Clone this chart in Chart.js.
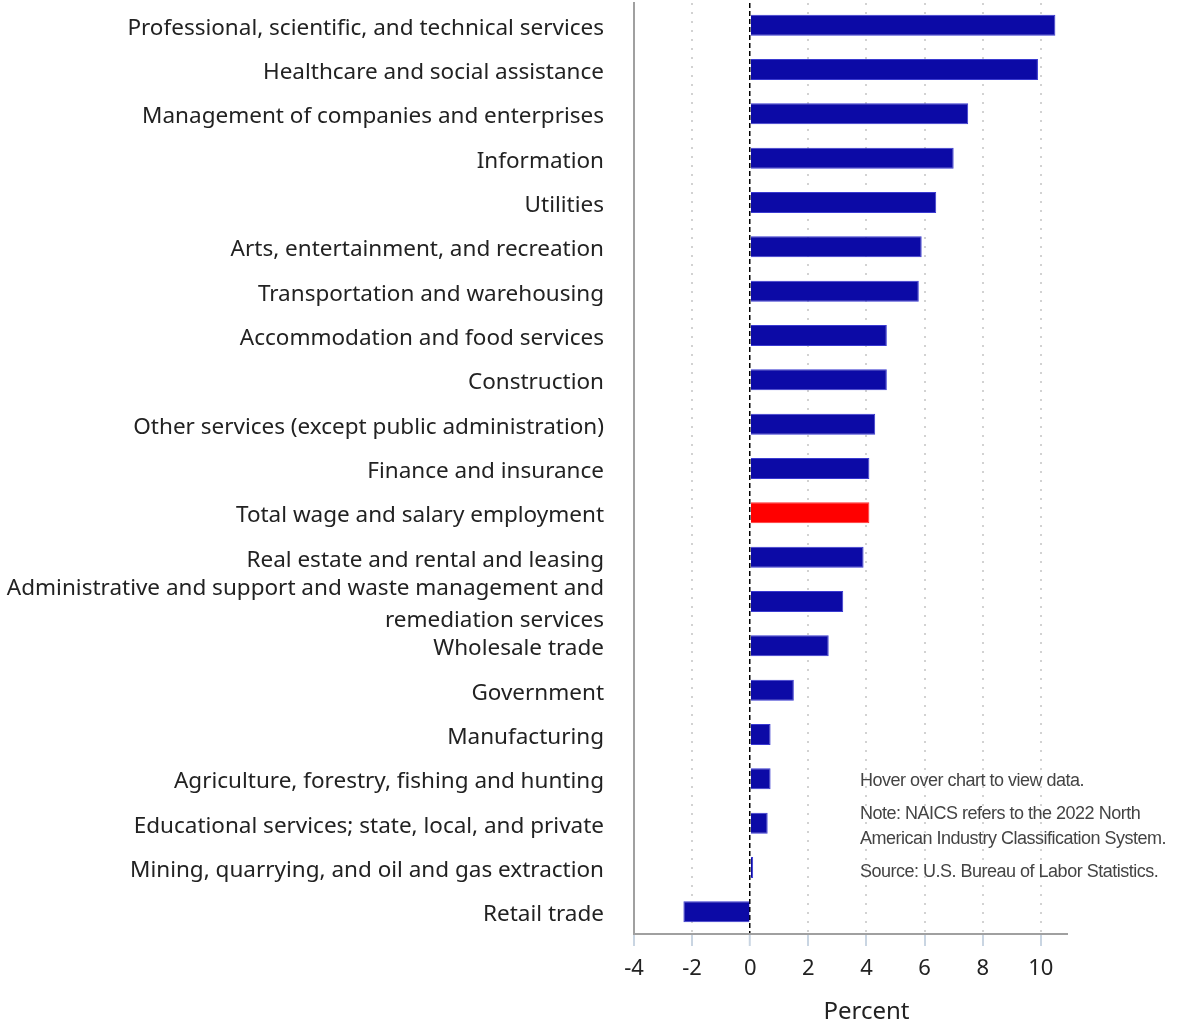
<!DOCTYPE html>
<html>
<head>
<meta charset="utf-8">
<title>Employment growth by industry</title>
<script src="https://cdn.jsdelivr.net/npm/chart.js@4.4.0/dist/chart.umd.min.js"></script>
<style>
  body { margin: 0; background: #fff; }
  #wrap { position: relative; width: 1196px; height: 1024px; }
  #notes {
    position: absolute; left: 860px; top: 768px;
    font-family: "Liberation Sans Narrow", "Liberation Sans", Arial, sans-serif;
    font-size: 18px; line-height: 25px; color: #444; letter-spacing: -0.5px;
  }
  #notes p { margin: 0 0 8px 0; }
</style>
</head>
<body>
<div id="wrap">
  <canvas id="industryChart" width="1196" height="1024"></canvas>
  <div id="notes">
    <p>Hover over chart to view data.</p>
    <p>Note: NAICS refers to the 2022 North<br>American Industry Classification System.</p>
    <p>Source: U.S. Bureau of Labor Statistics.</p>
  </div>
</div>
<script>
// industries, top to bottom
const industries = [
    'Professional, scientific, and technical services',
    'Healthcare and social assistance',
    'Management of companies and enterprises',
    'Information',
    'Utilities',
    'Arts, entertainment, and recreation',
    'Transportation and warehousing',
    'Accommodation and food services',
    'Construction',
    'Other services (except public administration)',
    'Finance and insurance',
    'Total wage and salary employment',
    'Real estate and rental and leasing',
    ['Administrative and support and waste management and', 'remediation services'],
    'Wholesale trade',
    'Government',
    'Manufacturing',
    'Agriculture, forestry, fishing and hunting',
    'Educational services; state, local, and private',
    'Mining, quarrying, and oil and gas extraction',
    'Retail trade'
];

// percent change
const growth = [10.5, 9.9, 7.5, 7.0, 6.4, 5.9, 5.8, 4.7, 4.7, 4.3, 4.1, 4.1, 3.9, 3.2, 2.7, 1.5, 0.7, 0.7, 0.6, 0.1, -2.3];

// x axis tick labels
const xTicks = [-4, -2, 0, 2, 4, 6, 8, 10];

const totalLabel = 'Total wage and salary employment';
const barColors = industries.map(name => name === totalLabel ? '#ff0000' : '#0c0aa6');
const barBorders = industries.map(name => name === totalLabel ? '#ff3030' : '#3a3ad0');

// draws the x axis title a bit right of the axis centre, like the original
const axisTitlePlugin = {
    id: 'axisTitle',
    afterDraw(chart) {
        const x = chart.scales.x;
        const c = chart.ctx;
        c.save();
        c.font = '24px "Noto Sans"';
        c.fillStyle = '#222';
        c.textAlign = 'center';
        c.textBaseline = 'middle';
        c.fillText('Percent', x.getPixelForValue(4), 1012);
        c.restore();
    }
};

const ctx = document.getElementById('industryChart').getContext('2d');
new Chart(ctx, {
    type: 'bar',
    data: {
        labels: industries,
        datasets: [{
            label: 'Percent',
            data: growth,
            backgroundColor: barColors,
            borderColor: barBorders,
            borderWidth: 1,
            barPercentage: 0.95,
            categoryPercentage: 0.5
        }]
    },
    options: {
        indexAxis: 'y',
        responsive: false,
        animation: false,
        layout: { padding: { top: 3, right: 129, bottom: 0, left: 0 } },
        plugins: {
            legend: { display: false },
            tooltip: { callbacks: { label: c => c.parsed.x.toFixed(1) + '%' } }
        },
        scales: {
            x: {
                min: -4,
                max: 10.9,
                afterBuildTicks: scale => { scale.ticks = xTicks.map(v => ({ value: v })); },
                afterFit: scale => { scale.height = 90; scale.paddingLeft = 0; scale.paddingRight = 0; },
                grid: {
                    color: c => c.tick && c.tick.value === 0 ? '#000000' : '#d2d2d2',
                    lineWidth: c => c.tick && c.tick.value === 0 ? 1.5 : 2,
                    tickColor: '#c9d5e2',
                    tickLength: 12,
                    tickWidth: 2
                },
                border: {
                    color: '#a0a0a0',
                    width: 2,
                    dash: c => c.tick && c.tick.value === 0 ? [5, 3] : [2, 7]
                },
                ticks: {
                    padding: 10,
                    color: '#222',
                    font: { family: 'Noto Sans', size: 22 }
                }
            },
            y: {
                afterFit: scale => { scale.width = 634; scale.paddingTop = 0; scale.paddingBottom = 0; },
                grid: { display: false, drawTicks: false },
                border: { color: '#a0a0a0', width: 2 },
                ticks: {
                    padding: 30,
                    labelOffset: 3,
                    color: '#222',
                    autoSkip: false,
                    font: { family: 'Noto Sans', size: 22.5, lineHeight: 1.42 }
                }
            }
        }
    },
    plugins: [axisTitlePlugin]
});
</script>
</body>
</html>
